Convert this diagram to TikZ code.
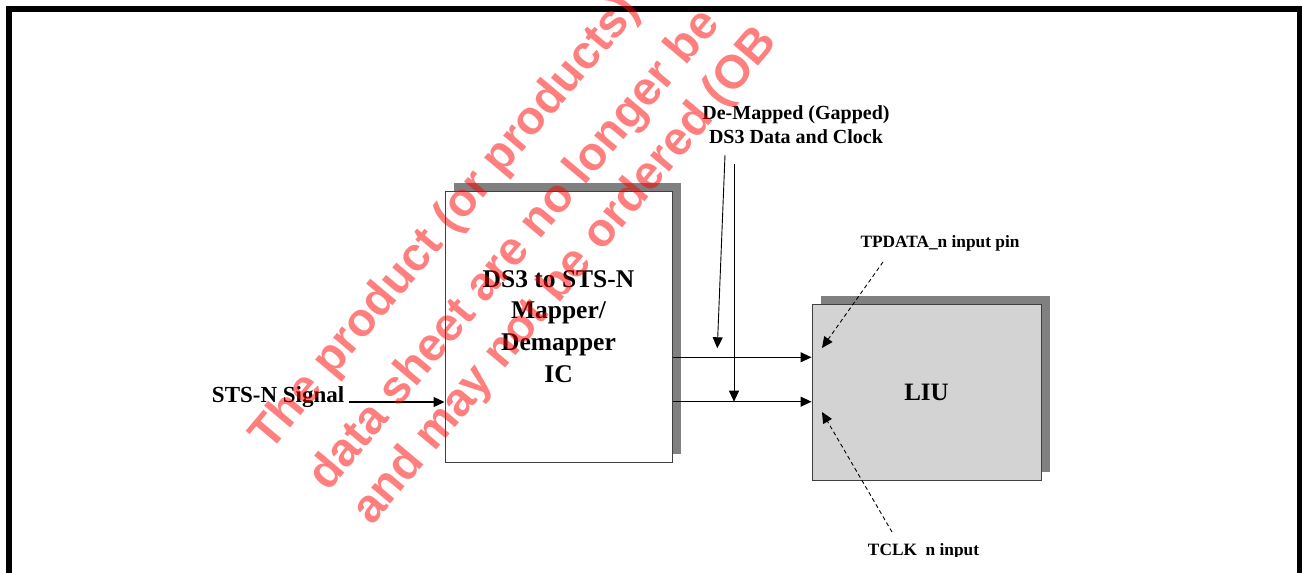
\documentclass[tikz,border=0pt]{standalone}
\usepackage{fontspec}
\setmainfont{Liberation Serif}
\newfontfamily\wmfont{Liberation Sans}
\usetikzlibrary{arrows.meta,shadows}
\definecolor{shadowgray}{HTML}{808080}
\definecolor{liugray}{HTML}{D3D3D3}
\definecolor{edgegray}{HTML}{404040}
\begin{document}
\begin{tikzpicture}[x=1pt,y=-1pt,
  blk/.style={draw=edgegray, line width=1pt, inner sep=0pt, align=center,
    font=\bfseries\fontsize{25.5}{31.7}\selectfont,
    drop shadow={shadow xshift=9pt, shadow yshift=8pt, opacity=1, fill=shadowgray}},
  arr/.style={line width=1.2pt, -{Triangle[length=11pt,width=10pt]}},
  thinarr/.style={line width=0.9pt, -{Triangle[length=11pt,width=10pt]}},
  dasharr/.style={line width=0.9pt, dash pattern=on 4pt off 3pt, -{Triangle[length=11pt,width=10pt]}},
  lbl/.style={inner sep=0pt, font=\bfseries\fontsize{20}{24}\selectfont, align=center},
  siglbl/.style={inner sep=0pt, font=\bfseries\fontsize{23}{27}\selectfont},
  pinlbl/.style={inner sep=0pt, font=\bfseries\fontsize{17.3}{20}\selectfont},
  wm/.style={text=red, opacity=0.5, rotate=50, anchor=base west, inner sep=0pt,
    font=\wmfont\bfseries\fontsize{47}{50}\selectfont}
]
\clip (0,0) rectangle (1302,573);
\fill[white] (0,0) rectangle (1302,573);
% frame
\draw[line width=6pt] (9,620) -- (9,9) -- (1300,9) -- (1300,620);

% blocks
\node[blk, fill=white, minimum width=227pt, minimum height=271pt] (map) at (558.5,326.5)
  {DS3 to STS-N\\Mapper/\\Demapper\\IC};
\node[blk, fill=liugray, font=\bfseries\fontsize{25}{30}\selectfont,
  minimum width=229pt, minimum height=176pt] (liu) at (926.5,392) {LIU};

% input
\node[siglbl, anchor=base east] (sts) at (344.5,402) {STS-N Signal};
\draw[arr] ([xshift=4.5pt]sts.base east) -- (sts.base -| map.west);

% outputs
\draw[arr] (map.east |- 0,357.3) -- (liu.west |- 0,357.3);
\draw[arr] (map.east |- 0,401.7) -- (liu.west |- 0,401.7);

% de-mapped label
\node[lbl] (dm) at (796,124.3) {De-Mapped (Gapped)\\DS3 Data and Clock};
\coordinate (d1) at (725,155);
\coordinate (e1) at (717.3,348.3);
\coordinate (d2) at (734,164);
\draw[thinarr] (d1) -- (e1);
\draw[thinarr] (d2) -- (d2 |- 0,401.7);

% pin labels
\node[pinlbl, anchor=base] (tp) at (940,247.7) {TPDATA\_n input pin};
\coordinate (t1) at (883,262);
\coordinate (t2) at (822,348);
\draw[dasharr] (t1) -- (t2);

\begin{scope}
\clip (0,0) rectangle (1302,556.3);
\node[pinlbl, anchor=base] (tc) at (923.5,555) {TCLK\phantom{\_}n input};
\end{scope}
\coordinate (c1) at (892,532);
\coordinate (c2) at (822,412);
\draw[dasharr] (c1) -- (c2);

% watermark
\node[wm] (w1) at (270,453) {The product (or products)};
\node[wm] (w2) at (328,493) {data sheet are no longer be};
\node[wm] (w3) at (372,527) {and may not be ordered (OB};
\end{tikzpicture}
\end{document}
